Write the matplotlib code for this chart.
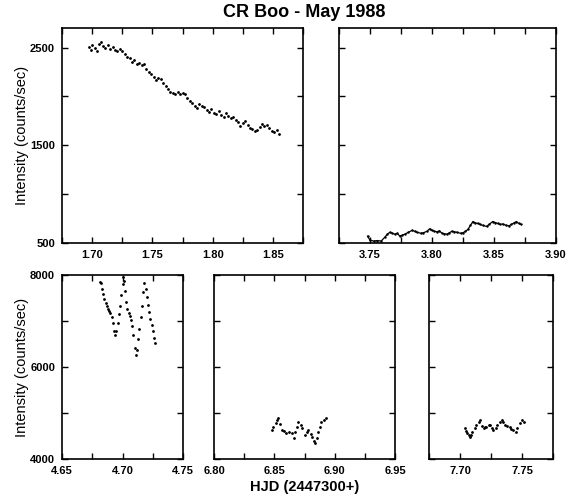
import matplotlib.pyplot as plt
from matplotlib.ticker import FixedLocator, MultipleLocator, NullFormatter

plt.rcParams['font.family'] = ['Liberation Sans', 'DejaVu Sans']

# ---- night 1 (1.70 - 1.86) ----
t1 = [1.697, 1.699, 1.700, 1.702, 1.704, 1.706, 1.707, 1.709, 1.711, 1.713,
      1.715, 1.717, 1.719, 1.721, 1.723, 1.725, 1.727, 1.729, 1.731, 1.733,
      1.735, 1.737, 1.739, 1.741, 1.743, 1.745, 1.747, 1.749, 1.751, 1.753,
      1.755, 1.757, 1.759, 1.761, 1.763, 1.765, 1.767, 1.769, 1.771, 1.773,
      1.775, 1.777, 1.779, 1.781, 1.783, 1.785, 1.787, 1.789, 1.791, 1.793,
      1.795, 1.797, 1.799, 1.801, 1.803, 1.805, 1.807, 1.809, 1.811, 1.813,
      1.815, 1.817, 1.819, 1.821, 1.823, 1.825, 1.827, 1.829, 1.831, 1.833,
      1.835, 1.837, 1.839, 1.841, 1.843, 1.845, 1.847, 1.849, 1.851, 1.853,
      1.855]
i1 = [2510, 2480, 2530, 2500, 2470, 2540, 2560, 2520, 2500, 2530,
      2490, 2510, 2480, 2470, 2490, 2460, 2430, 2400, 2390, 2350,
      2370, 2330, 2340, 2320, 2330, 2280, 2250, 2230, 2200, 2170,
      2190, 2180, 2140, 2110, 2080, 2050, 2040, 2030, 2050, 2020,
      2040, 2030, 1980, 1950, 1930, 1900, 1880, 1920, 1900, 1890,
      1860, 1840, 1870, 1830, 1820, 1850, 1810, 1790, 1830, 1800,
      1780, 1790, 1760, 1740, 1700, 1730, 1750, 1710, 1680, 1670,
      1650, 1660, 1690, 1720, 1700, 1710, 1680, 1650, 1640, 1660,
      1620]

# ---- night 2 (3.75 - 3.87) ----
t2 = [3.748, 3.750, 3.753, 3.756, 3.759, 3.762, 3.764, 3.766, 3.768, 3.770,
      3.772, 3.774, 3.776, 3.778, 3.781, 3.784, 3.786, 3.788, 3.791, 3.793,
      3.796, 3.798, 3.800, 3.802, 3.804, 3.806, 3.808, 3.810, 3.812, 3.814,
      3.816, 3.818, 3.820, 3.823, 3.825, 3.827, 3.829, 3.831, 3.833, 3.835,
      3.837, 3.839, 3.841, 3.844, 3.846, 3.849, 3.851, 3.853, 3.855, 3.857,
      3.860, 3.862, 3.864, 3.866, 3.868, 3.870, 3.872]
i2 = [570, 530, 520, 525, 520, 560, 590, 610, 600, 590,
      600, 570, 580, 590, 610, 630, 620, 610, 600, 605,
      620, 645, 630, 620, 615, 625, 600, 595, 590, 605,
      620, 615, 610, 600, 605, 620, 640, 680, 720, 705,
      700, 690, 680, 670, 690, 720, 710, 700, 690, 695,
      680, 675, 690, 705, 720, 700, 690]

# ---- night 3 (4.68 - 4.73) ----
t3 = [4.681, 4.682, 4.683, 4.684, 4.685, 4.686, 4.687, 4.688, 4.689, 4.690,
      4.691, 4.692, 4.693, 4.694, 4.695, 4.696, 4.697, 4.698, 4.699, 4.700,
      4.7005, 4.701, 4.702, 4.703, 4.704, 4.705, 4.706, 4.707, 4.708, 4.709,
      4.710, 4.711, 4.712, 4.713, 4.714, 4.715, 4.716, 4.717, 4.718, 4.719,
      4.720, 4.721, 4.722, 4.723, 4.724, 4.725, 4.726, 4.727]
i3 = [7850, 7820, 7700, 7580, 7480, 7400, 7330, 7270, 7220, 7170,
      7080, 6960, 6780, 6700, 6790, 6950, 7150, 7320, 7560, 7800,
      7950, 7880, 7660, 7420, 7260, 7180, 7100, 7020, 6900, 6700,
      6420, 6260, 6380, 6600, 6820, 7080, 7330, 7620, 7820, 7700,
      7520, 7350, 7190, 7050, 6920, 6780, 6640, 6520]

# ---- night 4 (6.85 - 6.89) ----
t4 = [6.848, 6.849, 6.851, 6.852, 6.853, 6.855, 6.856, 6.858, 6.860, 6.862,
      6.865, 6.866, 6.867, 6.869, 6.870, 6.872, 6.873, 6.875, 6.877, 6.878,
      6.880, 6.881, 6.883, 6.884, 6.885, 6.886, 6.888, 6.889, 6.891, 6.893]
i4 = [4630, 4700, 4780, 4840, 4890, 4750, 4630, 4600, 4570, 4580,
      4570, 4460, 4580, 4700, 4800, 4740, 4670, 4520, 4580, 4630,
      4550, 4480, 4400, 4350, 4450, 4590, 4700, 4800, 4850, 4890]

# ---- night 5 (7.70 - 7.75) ----
t5 = [7.704, 7.705, 7.706, 7.707, 7.708, 7.709, 7.710, 7.712, 7.713, 7.715,
      7.716, 7.718, 7.719, 7.720, 7.721, 7.723, 7.724, 7.726, 7.727, 7.729,
      7.730, 7.732, 7.734, 7.735, 7.736, 7.738, 7.740, 7.741, 7.743, 7.745,
      7.746, 7.748, 7.750, 7.752]
i5 = [4670, 4600, 4570, 4520, 4480, 4530, 4590, 4680, 4740, 4800,
      4850, 4720, 4670, 4690, 4700, 4730, 4740, 4680, 4630, 4680,
      4740, 4800, 4850, 4800, 4740, 4720, 4700, 4660, 4630, 4590,
      4680, 4780, 4850, 4800]

# y ticks: labelled majors and unlabelled minors
top_major = [500, 1500, 2500]
top_minor = [1000, 2000]
bot_major = [4000, 6000, 8000]
bot_minor = [5000, 7000]

fig = plt.figure(figsize=(5.77, 4.97), dpi=100)

def frame(rect, xlim, ylim, ymaj, ymin, ylabels):
    ax = fig.add_axes(rect)
    ax.set_xlim(*xlim)
    ax.set_ylim(*ylim)
    ax.xaxis.set_major_locator(MultipleLocator(0.05))
    ax.xaxis.set_minor_locator(MultipleLocator(0.025))
    ax.yaxis.set_major_locator(FixedLocator(ymaj))
    ax.yaxis.set_minor_locator(FixedLocator(ymin))
    ax.tick_params(which='both', direction='in', top=True, right=True,
                   length=4, width=1.0, labelsize=8, pad=5)
    ax.xaxis.set_major_formatter(plt.FuncFormatter(lambda v, p: '%.2f' % v))
    if not ylabels:
        ax.yaxis.set_major_formatter(NullFormatter())
    for s in ax.spines.values():
        s.set_linewidth(1.2)
    return ax

ax1 = frame([0.1075, 0.511, 0.4177, 0.4326], (1.675, 1.875), (500, 2700), top_major, top_minor, True)
ax1.plot(t1, i1, 'k.', markersize=2)
ax1.set_ylabel('Intensity (counts/sec)', fontsize=10.5, labelpad=1)

ax2 = frame([0.5875, 0.511, 0.3761, 0.4326], (3.725, 3.90), (500, 2700), top_major, top_minor, False)
ax2.plot(t2, i2, 'k-', linewidth=0.9)
ax2.plot(t2, i2, 'k.', markersize=1.5)

ax3 = frame([0.1075, 0.0765, 0.2097, 0.3702], (4.65, 4.75), (4000, 8000), bot_major, bot_minor, True)
ax3.plot(t3, i3, 'k.', markersize=2)
ax3.set_ylabel('Intensity (counts/sec)', fontsize=10.5, labelpad=1)

ax4 = frame([0.3709, 0.0765, 0.3137, 0.3702], (6.80, 6.95), (4000, 8000), bot_major, bot_minor, False)
ax4.plot(t4, i4, 'k.', markersize=2)
ax4.set_xlabel('HJD (2447300+)', fontsize=10.5, fontweight='bold', labelpad=3)

ax5 = frame([0.7435, 0.0765, 0.2149, 0.3702], (7.675, 7.775), (4000, 8000), bot_major, bot_minor, False)
ax5.plot(t5, i5, 'k.', markersize=2)

for ax in (ax1, ax2, ax3, ax4, ax5):
    for lab in ax.get_xticklabels() + ax.get_yticklabels():
        lab.set_fontweight('bold')

fig.text(0.527, 0.975, 'CR Boo - May 1988', ha='center', va='center',
         fontsize=13, fontweight='bold')

fig.savefig('out.png', dpi=100)
